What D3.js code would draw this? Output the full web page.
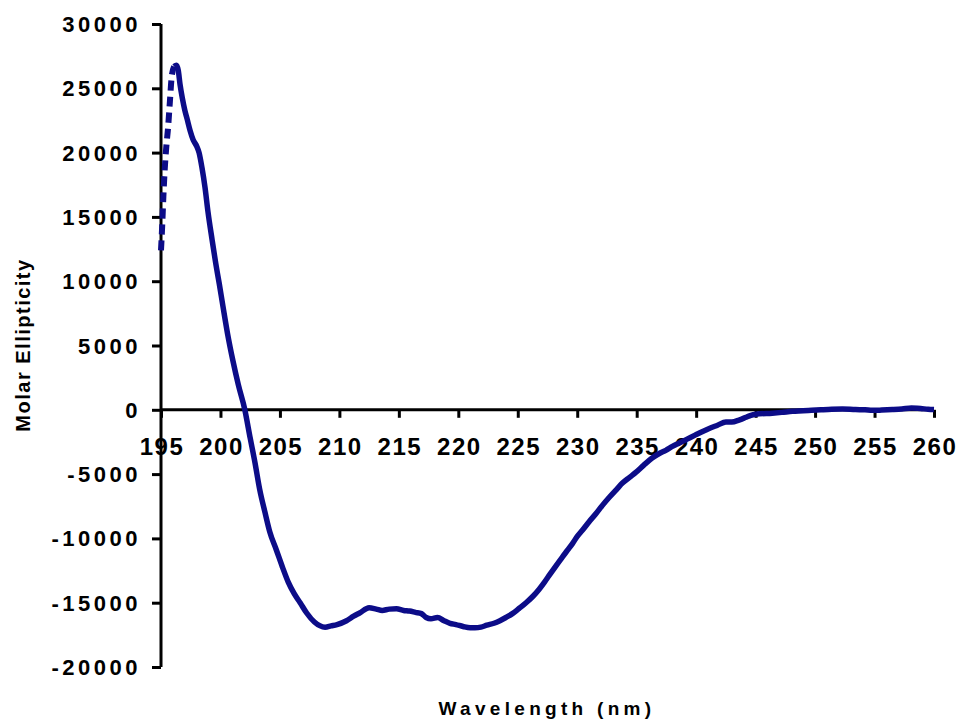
<!DOCTYPE html>
<html>
<head>
<meta charset="utf-8">
<script src="https://cdn.jsdelivr.net/npm/d3@7"></script>
<style>
  html, body { margin: 0; padding: 0; background: #fff; }
  svg { display: block; }
  .tick-label { font-family: "Liberation Sans", Arial, sans-serif; font-weight: bold; fill: #000; }
</style>
</head>
<body>
<svg id="chart" width="958" height="719"></svg>
<script>
// CD spectrum: wavelength (nm) vs molar ellipticity
const wavelength = [
  195.0, 195.1, 195.2, 195.3, 195.45, 195.6, 195.75, 195.9, 196.1, 196.3,
  196.45, 196.6, 196.8, 197.0, 197.2, 197.45, 197.7, 198.0, 198.2, 198.45,
  198.7, 198.95, 199.3, 199.6, 199.9, 200.2, 200.6, 201.05, 201.5, 202.05,
  202.5, 202.9, 203.3, 203.75, 204.15, 204.7, 205.2, 205.7, 206.2, 206.7,
  207.25, 207.9, 208.8, 209.3, 209.8, 210.6, 211.2, 211.7, 212.5, 213.1,
  213.6, 214.2, 214.8, 215.4, 215.9, 216.4, 216.9, 217.3, 217.7, 218.25,
  218.8, 219.3, 219.8, 220.4, 221.0, 221.4, 221.9, 222.4, 223.0, 223.5,
  224.0, 224.55, 225.1, 225.7, 226.3, 226.8, 227.25, 227.7, 228.2, 228.75,
  229.2, 229.6, 230.0, 230.45, 231.0, 231.6, 232.1, 232.7, 233.3, 233.8,
  234.4, 234.95, 235.6, 236.3, 236.9, 237.45, 238.0, 238.55, 239.2, 239.95,
  240.5, 241.1, 241.8, 242.5, 243.0, 243.6, 244.2, 244.6, 245.0, 246.4,
  247.2, 248.1, 249.0, 249.7, 250.5, 251.4, 252.3, 253.4, 254.2, 254.8,
  255.6, 256.5, 257.3, 258.1, 258.6, 259.0, 259.5, 260.0
];
const ellipticity = [
  12400, 14300, 16600, 18500, 20500, 22000, 24000, 25900, 26700, 26800,
  26400, 25300, 24200, 23300, 22600, 21700, 21000, 20500, 20000, 18800,
  17300, 15400, 13200, 11400, 9800, 8100, 5900, 3800, 1950, 0,
  -2200, -4100, -6200, -8000, -9500, -10900, -12200, -13400, -14300, -15000,
  -15800, -16500, -16900, -16800, -16700, -16400, -16050, -15800, -15400, -15500,
  -15600, -15500, -15480, -15600, -15650, -15750, -15850, -16150, -16250, -16150,
  -16400, -16600, -16700, -16850, -16950, -16950, -16900, -16750, -16600, -16400,
  -16150, -15850, -15450, -15000, -14480, -13950, -13400, -12800, -12150, -11450,
  -10900, -10400, -9850, -9350, -8700, -8050, -7450, -6800, -6200, -5700,
  -5250, -4850, -4300, -3750, -3400, -3150, -2850, -2600, -2300, -1950,
  -1700, -1450, -1200, -950, -950, -800, -580, -430, -350, -260,
  -200, -120, -80, -40, 0, 40, 60, 15, 0, -40,
  -20, 15, 60, 140, 130, 90, 40, 15
];
const xTicks = [195, 200, 205, 210, 215, 220, 225, 230, 235, 240, 245, 250, 255, 260];
const yTicks = [30000, 25000, 20000, 15000, 10000, 5000, 0, -5000, -10000, -15000, -20000];
const xTitle = "Wavelength (nm)";
const yTitle = "Molar Ellipticity";

const svg = d3.select("#chart");
const plot = { left: 161, right: 934, top: 24, bottom: 667 };

const x = d3.scaleLinear().domain([195, 260]).range([plot.left, plot.right]);
const y = d3.scaleLinear().domain([-20000, 30000]).range([plot.bottom, plot.top]);

const points = wavelength.map((w, i) => ({ w, v: ellipticity[i] }));
const line = d3.line().x(d => x(d.w)).y(d => y(d.v)).curve(d3.curveMonotoneX);

// Y axis on the left edge
const yAxis = svg.append("g")
  .attr("transform", `translate(${plot.left},0)`)
  .call(d3.axisLeft(y).tickValues(yTicks).tickSize(9).tickFormat(""));
yAxis.select(".domain").attr("stroke", "#000").attr("stroke-width", 3)
  .attr("d", `M0,${plot.top}V${plot.bottom}`);
yAxis.selectAll(".tick line").attr("stroke", "#000").attr("stroke-width", 3);

svg.append("g").selectAll("text").data(yTicks).join("text")
  .attr("class", "tick-label")
  .attr("x", 141).attr("y", d => y(d) + 8)
  .attr("text-anchor", "end")
  .style("font-size", "22px").style("letter-spacing", "3.5px")
  .text(d => d);

// X axis through zero
const xAxis = svg.append("g")
  .attr("transform", `translate(0,${y(0)})`)
  .call(d3.axisBottom(x).tickValues(xTicks).tickSize(8).tickFormat(""));
xAxis.select(".domain").attr("stroke", "#000").attr("stroke-width", 3)
  .attr("d", `M${plot.left},0H${plot.right}`);
xAxis.selectAll(".tick line").attr("stroke", "#000").attr("stroke-width", 3);

svg.append("g").selectAll("text").data(xTicks).join("text")
  .attr("class", "tick-label")
  .attr("x", d => x(d) + 1).attr("y", y(0) + 45)
  .attr("text-anchor", "middle")
  .style("font-size", "24px").style("letter-spacing", "1.5px")
  .text(d => d);

// Spectrum trace: sparse marker look on the steep rise, solid afterwards
svg.append("path")
  .datum(points.filter(d => d.w <= 196.1))
  .attr("fill", "none").attr("stroke", "#0c0c88")
  .attr("stroke-width", 6).attr("stroke-dasharray", "10,6")
  .attr("d", line);
svg.append("path")
  .datum(points.filter(d => d.w >= 196.1))
  .attr("fill", "none").attr("stroke", "#0c0c88")
  .attr("stroke-width", 5.5).attr("stroke-linejoin", "round")
  .attr("d", line);

// Axis titles
svg.append("text")
  .attr("class", "tick-label")
  .attr("x", 547).attr("y", 715)
  .attr("text-anchor", "middle")
  .style("font-size", "19px").style("letter-spacing", "4.3px")
  .text(xTitle);

svg.append("text")
  .attr("class", "tick-label")
  .attr("transform", "translate(30,345) rotate(-90)")
  .attr("text-anchor", "middle")
  .style("font-size", "20px").style("letter-spacing", "1.5px")
  .text(yTitle);
</script>
</body>
</html>
